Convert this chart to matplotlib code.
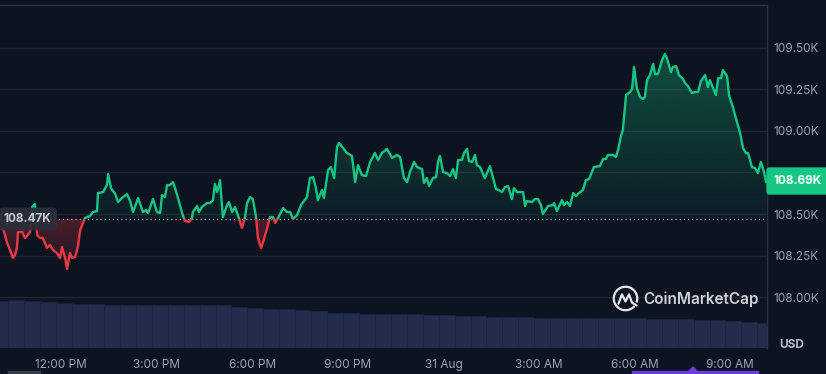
import numpy as np
import matplotlib
matplotlib.use("Agg")
import matplotlib.pyplot as plt
import matplotlib.colors as mcolors
from matplotlib.path import Path
from matplotlib.patches import Rectangle, Polygon, Arc

# ---------------- data ----------------
# hours relative to 12:00 PM (30 Aug)
times = [
    -1.88, -1.82, -1.69, -1.60, -1.51, -1.44, -1.38, -1.35, -1.22, -1.13,
    -1.04, -0.97, -0.91, -0.82, -0.75, -0.66, -0.57, -0.44, -0.35, -0.25,
    -0.13, -0.03, 0.03, 0.13, 0.19, 0.28, 0.35, 0.44, 0.53, 0.60,
    0.69, 0.75, 0.91, 1.00, 1.13, 1.16, 1.32, 1.44, 1.48, 1.57,
    1.63, 1.69, 1.79, 1.91, 2.07, 2.17, 2.26, 2.42, 2.57, 2.67,
    2.73, 2.89, 3.01, 3.11, 3.17, 3.26, 3.33, 3.42, 3.51, 3.58,
    3.67, 3.80, 3.89, 4.02, 4.11, 4.14, 4.27, 4.33, 4.42, 4.58,
    4.68, 4.77, 4.83, 4.90, 4.99, 5.08, 5.21, 5.27, 5.37, 5.46,
    5.55, 5.68, 5.77, 5.84, 5.93, 6.02, 6.12, 6.18, 6.28, 6.34,
    6.46, 6.56, 6.65, 6.72, 6.81, 6.97, 7.09, 7.19, 7.28, 7.41,
    7.53, 7.72, 7.81, 7.91, 8.00, 8.06, 8.19, 8.25, 8.38, 8.47,
    8.57, 8.66, 8.72, 8.85, 8.97, 9.13, 9.23, 9.32, 9.44, 9.57,
    9.70, 9.85, 9.95, 10.07, 10.23, 10.39, 10.54, 10.64, 10.70, 10.76,
    10.86, 10.95, 11.08, 11.17, 11.33, 11.39, 11.48, 11.55, 11.67, 11.77,
    11.83, 11.89, 11.99, 12.11, 12.21, 12.30, 12.39, 12.46, 12.58, 12.65,
    12.74, 12.80, 12.90, 12.99, 13.05, 13.15, 13.30, 13.46, 13.56, 13.65,
    13.74, 13.84, 13.93, 14.03, 14.15, 14.21, 14.31, 14.40, 14.50, 14.56,
    14.62, 14.78, 14.87, 14.97, 15.06, 15.12, 15.28, 15.44, 15.47, 15.56,
    15.72, 15.78, 15.88, 15.97, 16.07, 16.16, 16.25, 16.38, 16.47, 16.57,
    16.72, 16.91, 17.01, 17.10, 17.16, 17.32, 17.41, 17.48, 17.57, 17.63,
    17.73, 17.85, 17.92, 17.98, 18.07, 18.17, 18.26, 18.32, 18.39, 18.48,
    18.58, 18.64, 18.73, 18.86, 18.95, 19.01, 19.14, 19.20, 19.30, 19.39,
    19.52, 19.58, 19.67, 19.80, 19.89, 19.99, 20.08, 20.21, 20.30, 20.36,
    20.46, 20.55, 20.62, 20.71, 20.77, 20.90, 20.96, 21.09, 21.21, 21.31,
    21.40, 21.49, 21.56, 21.68, 21.78, 21.87, 21.96, 22.06, 22.12,
]
# BTC price in thousands of USD
prices = [
    108.410, 108.416, 108.326, 108.284, 108.236, 108.254, 108.302, 108.392, 108.392, 108.356,
    108.374, 108.392, 108.542, 108.560, 108.374, 108.356, 108.356, 108.296, 108.314, 108.284,
    108.266, 108.236, 108.302, 108.236, 108.169, 108.266, 108.236, 108.242, 108.302, 108.404,
    108.446, 108.476, 108.488, 108.512, 108.518, 108.626, 108.632, 108.674, 108.740, 108.656,
    108.638, 108.626, 108.572, 108.596, 108.620, 108.578, 108.512, 108.596, 108.512, 108.524,
    108.506, 108.590, 108.512, 108.506, 108.614, 108.602, 108.674, 108.674, 108.692, 108.656,
    108.596, 108.506, 108.458, 108.452, 108.476, 108.512, 108.548, 108.512, 108.542, 108.566,
    108.566, 108.584, 108.680, 108.632, 108.704, 108.482, 108.554, 108.572, 108.512, 108.542,
    108.494, 108.416, 108.476, 108.566, 108.602, 108.590, 108.482, 108.356, 108.296, 108.332,
    108.410, 108.482, 108.482, 108.446, 108.476, 108.536, 108.512, 108.512, 108.470, 108.494,
    108.554, 108.602, 108.716, 108.722, 108.656, 108.584, 108.644, 108.596, 108.764, 108.782,
    108.716, 108.903, 108.927, 108.897, 108.867, 108.849, 108.692, 108.794, 108.734, 108.728,
    108.813, 108.867, 108.825, 108.867, 108.891, 108.837, 108.855, 108.843, 108.782, 108.716,
    108.692, 108.752, 108.813, 108.782, 108.770, 108.686, 108.716, 108.668, 108.716, 108.722,
    108.813, 108.849, 108.752, 108.746, 108.728, 108.770, 108.716, 108.825, 108.825, 108.867,
    108.891, 108.819, 108.813, 108.855, 108.794, 108.782, 108.716, 108.788, 108.716, 108.650,
    108.644, 108.632, 108.662, 108.668, 108.590, 108.656, 108.632, 108.632, 108.632, 108.548,
    108.578, 108.572, 108.590, 108.590, 108.554, 108.500, 108.548, 108.554, 108.566, 108.518,
    108.584, 108.554, 108.572, 108.548, 108.626, 108.608, 108.626, 108.644, 108.704, 108.710,
    108.782, 108.788, 108.831, 108.831, 108.855, 108.855, 108.843, 108.885, 108.969, 109.005,
    109.215, 109.233, 109.251, 109.383, 109.257, 109.203, 109.191, 109.203, 109.305, 109.335,
    109.402, 109.341, 109.341, 109.426, 109.462, 109.438, 109.353, 109.383, 109.389, 109.335,
    109.311, 109.287, 109.269, 109.227, 109.233, 109.233, 109.299, 109.335, 109.263, 109.305,
    109.257, 109.215, 109.317, 109.317, 109.365, 109.329, 109.215, 109.137, 109.053, 108.987,
    108.897, 108.867, 108.867, 108.782, 108.776, 108.746, 108.813, 108.752, 108.692,
]
baseline = 108.47
last_price = 108.69

# volume (billions USD, 30-minute bars)
vol_times = [-1.9 + 0.5 * i for i in range(49)]
volumes = [
    23.5, 24.0, 23.5, 23.0, 22.5, 22.25, 22.0, 21.75, 21.5, 21.5,
    21.5, 21.5, 21.5, 21.5, 21.5, 20.75, 20.0, 19.75, 19.5, 19.0,
    18.5, 17.75, 17.5, 17.25, 17.0, 17.0, 17.0, 16.75, 16.5, 16.25,
    16.0, 15.75, 15.5, 15.5, 15.25, 15.25, 15.0, 15.0, 15.0, 15.0,
    15.0, 14.75, 14.5, 14.5, 14.25, 14.0, 13.75, 13.25, 12.5,
]

price_ticks = [108.00, 108.25, 108.50, 108.75, 109.00, 109.25, 109.50]
time_ticks = [0, 3, 6, 9, 12, 15, 18, 21]
time_labels = ["12:00 PM", "3:00 PM", "6:00 PM", "9:00 PM", "31 Aug",
               "3:00 AM", "6:00 AM", "9:00 AM"]

# ---------------- style ----------------
BG = "#0d1421"
GREEN = "#16c784"
RED = "#ea3943"
GRID = "#222531"
LABEL = "#9aa1b5"
FONT = ["Inter", "DejaVu Sans"]
plt.rcParams["font.family"] = FONT

W, H = 826, 374
def fx(x):
    return x / W
def fy(y):
    return 1 - y / H

fig = plt.figure(figsize=(W / 100, H / 100), dpi=100, facecolor=BG)

x0, x1 = -1.914, 22.153
y0, y1 = 107.695, 109.756
pos = [0, fy(348), fx(767), (348 - 5) / H]

# volume axes (behind)
axv = fig.add_axes(pos, zorder=0)
axv.set_facecolor(BG)
axv.bar(vol_times, volumes, width=0.5, color="#232c4b", edgecolor="#1c2442",
        linewidth=0.4, align="center")
axv.set_xlim(x0, x1)
axv.set_ylim(0, 171.5)
axv.axis("off")

# price axes
ax = fig.add_axes(pos, zorder=1)
ax.patch.set_alpha(0)
t = np.array(times)
p = np.array(prices)


def grad_fill(where, color, lo, hi, a_lo, a_hi):
    coll = ax.fill_between(t, p, baseline, where=where, interpolate=True,
                           facecolor="none", edgecolor="none")
    paths = coll.get_paths()
    comp = Path.make_compound_path(*paths)
    rgba = np.zeros((256, 1, 4))
    rgba[..., :3] = mcolors.to_rgb(color)
    rgba[:, 0, 3] = np.linspace(a_hi, a_lo, 256)  # row 0 = top
    im = ax.imshow(rgba, extent=[x0, x1, lo, hi], origin="upper",
                   aspect="auto", zorder=2, interpolation="bilinear")
    im.set_clip_path(comp, transform=ax.transData)


grad_fill(p >= baseline, GREEN, baseline, p.max(), 0.05, 0.32)
grad_fill(p <= baseline, RED, p.min(), baseline, 0.08, 0.28)

for color, rect in ((GREEN, Rectangle((x0, baseline), x1 - x0, y1 - baseline, transform=ax.transData)),
                    (RED, Rectangle((x0, y0), x1 - x0, baseline - y0, transform=ax.transData))):
    ln, = ax.plot(t, p, color=color, lw=1.7, zorder=4, solid_joinstyle="round",
                  solid_capstyle="round")
    ln.set_clip_path(rect)

ax.axhline(baseline, color="#b8bcc6", lw=1.0, dashes=(0.8, 2.2), zorder=3)

ax.set_xlim(x0, x1)
ax.set_ylim(y0, y1)
ax.set_yticks(price_ticks)
# the 108.75K label is hidden behind the current-price marker in the original
ax.set_yticklabels(["" if abs(v - 108.75) < 1e-9 else f"{v:.2f}K" for v in price_ticks])
ax.yaxis.tick_right()
ax.set_xticks(time_ticks)
ax.set_xticklabels(time_labels)
ax.tick_params(axis="y", length=0, pad=5, labelsize=8.5, labelcolor=LABEL)
ax.tick_params(axis="x", length=0, pad=8, labelsize=8.5, labelcolor=LABEL)
ax.grid(axis="y", color=GRID, lw=1)
ax.set_axisbelow(True)
for s in ("left", "bottom"):
    ax.spines[s].set_visible(False)
ax.spines["top"].set_color("#2c3040")
ax.spines["right"].set_color("#2c3040")
ax.spines["top"].set_linewidth(1)
ax.spines["right"].set_linewidth(1)

# labels
fig.text(fx(4), fy(219), f"{baseline:.2f}K", ha="left", va="center",
         fontsize=8.5, fontweight="bold", color="#c6cad4",
         bbox=dict(boxstyle="round,pad=0.45,rounding_size=0.35", fc="#2a2f3b",
                   ec="none", alpha=0.92), zorder=10)
fig.text(fx(774), fy(181), f"{last_price:.2f}K", ha="left", va="center",
         fontsize=8.5, fontweight="bold", color="white",
         bbox=dict(boxstyle="round,pad=0.65,rounding_size=0.25", fc=GREEN,
                   ec="none"), zorder=10)
fig.text(fx(792), fy(345), "USD", ha="center", va="center", fontsize=8.5,
         fontweight="bold", color="#b5bac8")

# watermark
fig.text(fx(643), fy(299), "CoinMarketCap", ha="left", va="center",
         fontsize=11, fontweight="semibold", color="#e4e6eb", alpha=0.9, zorder=10)
axl = fig.add_axes([fx(612), fy(312), fx(27), 27 / H], zorder=10)
axl.set_xlim(-1.15, 1.15)
axl.set_ylim(-1.15, 1.15)
axl.axis("off")
axl.add_patch(Arc((0, 0), 2, 2, theta1=-20, theta2=320, color="#e4e6eb", lw=1.6))
axl.plot([-0.6, -0.3, 0.0, 0.3, 0.55, 0.95],
         [-0.45, 0.35, -0.25, 0.35, -0.35, -0.6], color="#e4e6eb", lw=1.6,
         solid_joinstyle="round", solid_capstyle="round")

# cut-off slider elements at the bottom edge
fig.patches.append(Rectangle((fx(8), fy(374)), fx(32), 3 / H, transform=fig.transFigure,
                             color="#3a3f4b", zorder=5))
fig.patches.append(Rectangle((fx(632), fy(374)), fx(126), 3 / H, transform=fig.transFigure,
                             color="#6c3ce0", zorder=5))
fig.patches.append(Polygon([(fx(689), fy(371)), (fx(697), fy(371)), (fx(693), fy(367))],
                           closed=True, transform=fig.transFigure, color="#6c3ce0", zorder=5))

fig.savefig("out.png", dpi=100, facecolor=BG)
